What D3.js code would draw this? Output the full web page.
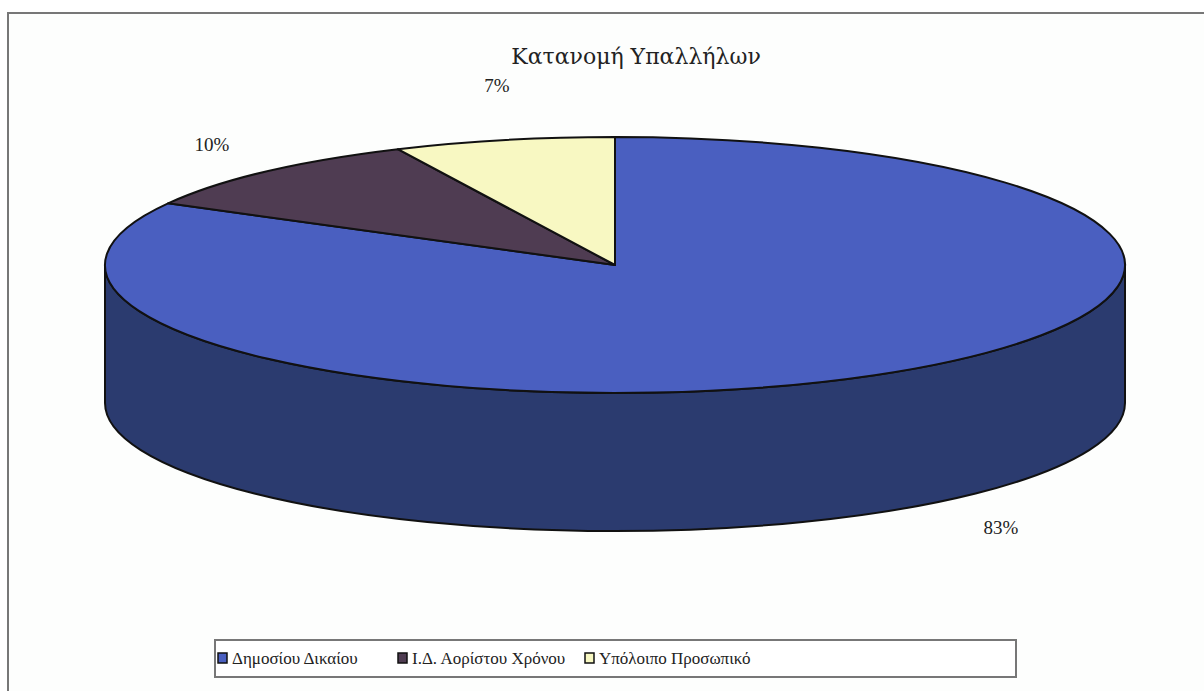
<!DOCTYPE html>
<html>
<head>
<meta charset="utf-8">
<script src="https://cdn.jsdelivr.net/npm/d3@7"></script>
<style>
  body { margin: 0; background: #fff; }
  text { font-family: "Liberation Serif", "DejaVu Serif", serif; fill: #222; }
</style>
</head>
<body>
<script>
// chart data
var categories = ["Δημοσίου Δικαίου", "Ι.Δ. Αορίστου Χρόνου", "Υπόλοιπο Προσωπικό"];
var shares = [83, 10, 7];
var labels = ["83%", "10%", "7%"];
var topColors = ["#4a5fc0", "#4f3c52", "#f8f8c2"];
var sideColors = ["#2b3b6f", "#33263a", "#b8b88a"];

var W = 1204, H = 691;
var cx = 615, cy = 265, rx = 510, ry = 128, depth = 138;

var svg = d3.select("body").append("svg")
    .attr("width", W)
    .attr("height", H);

// outer frame
svg.append("rect")
    .attr("x", 8).attr("y", 13)
    .attr("width", W).attr("height", H)
    .attr("fill", "#fdfefd")
    .attr("stroke", "#777")
    .attr("stroke-width", 2);

// title
svg.append("text")
    .attr("x", 636).attr("y", 64)
    .attr("text-anchor", "middle")
    .style("font-family", "'DejaVu Serif', serif")
    .attr("font-size", 22)
    .text("Κατανομή Υπαλλήλων");

// pie angles, starting at 12 o'clock going clockwise
var pie = d3.pie().sort(null).value(function(d) { return d; });
var arcs = pie(shares);

// angle -> point on projected ellipse
function pt(a, dy) {
    return [cx + rx * Math.sin(a), cy - ry * Math.cos(a) + (dy || 0)];
}

// side walls (only front half is visible: PI/2 .. 3PI/2)
var g = svg.append("g");
arcs.forEach(function(d, i) {
    var s = Math.max(d.startAngle, Math.PI / 2);
    var e = Math.min(d.endAngle, 3 * Math.PI / 2);
    if (e <= s) return;
    var p0 = pt(s), p1 = pt(e), q1 = pt(e, depth), q0 = pt(s, depth);
    var large = (e - s) > Math.PI ? 1 : 0;
    var path = "M" + p0 + " A" + rx + " " + ry + " 0 " + large + " 1 " + p1 +
        " L" + q1 + " A" + rx + " " + ry + " 0 " + large + " 0 " + q0 + " Z";
    g.append("path")
        .attr("d", path)
        .attr("fill", sideColors[i])
        .attr("stroke", "#111")
        .attr("stroke-width", 2)
        .attr("stroke-linejoin", "round");
});

// top faces
g.selectAll(".slice")
    .data(arcs)
    .enter()
    .append("path")
    .attr("class", "slice")
    .attr("d", function(d) {
        var p0 = pt(d.startAngle), p1 = pt(d.endAngle);
        var large = (d.endAngle - d.startAngle) > Math.PI ? 1 : 0;
        return "M" + cx + "," + cy + " L" + p0 + " A" + rx + " " + ry + " 0 " + large + " 1 " + p1 + " Z";
    })
    .attr("fill", function(d, i) { return topColors[i]; })
    .attr("stroke", "#111")
    .attr("stroke-width", 2)
    .attr("stroke-linejoin", "round");

// percentage labels outside slices
var labelPos = [[1001, 534], [212, 151], [497, 92]];
svg.selectAll(".pct")
    .data(labels)
    .enter()
    .append("text")
    .attr("class", "pct")
    .attr("x", function(d, i) { return labelPos[i][0]; })
    .attr("y", function(d, i) { return labelPos[i][1]; })
    .attr("text-anchor", "middle")
    .attr("font-size", 19)
    .text(function(d) { return d; });

// legend
var lg = svg.append("g");
lg.append("rect")
    .attr("x", 215).attr("y", 640)
    .attr("width", 801).attr("height", 37)
    .attr("fill", "#fff")
    .attr("stroke", "#777")
    .attr("stroke-width", 2);

var legendX = [218, 398, 585];
var item = lg.selectAll(".item")
    .data(categories)
    .enter()
    .append("g")
    .attr("class", "item")
    .attr("transform", function(d, i) { return "translate(" + legendX[i] + ",658)"; });

item.append("rect")
    .attr("x", 0).attr("y", -5)
    .attr("width", 9).attr("height", 10)
    .attr("fill", function(d, i) { return topColors[i]; })
    .attr("stroke", "#111")
    .attr("stroke-width", 1.5);

item.append("text")
    .attr("x", 14).attr("y", 6)
    .attr("font-size", 17)
    .text(function(d) { return d; });
</script>
</body>
</html>
